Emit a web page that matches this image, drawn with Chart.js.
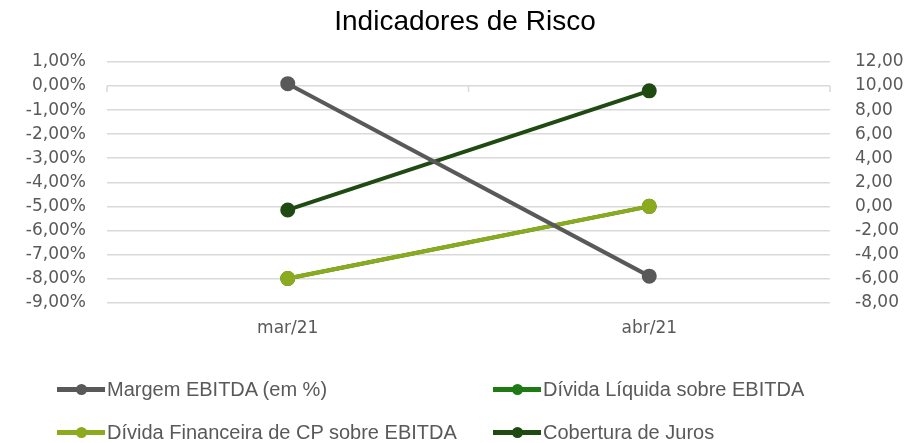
<!DOCTYPE html>
<html>
<head>
<meta charset="utf-8">
<script src="https://cdn.jsdelivr.net/npm/chart.js@4"></script>
<style>
  body { margin: 0; background: #fff; }
  #wrap { position: relative; width: 905px; height: 443px; }
  #overlay { position: absolute; left: 0; top: 0; width: 905px; height: 443px; pointer-events: none; }
  #title { position: absolute; left: 265px; width: 400px; top: 5px; text-align: center; font-family: 'Liberation Sans Narrow', 'Liberation Sans', sans-serif; font-size: 28px; color: #000; }
  .item { position: absolute; display: flex; align-items: center; font-family: 'Liberation Sans Narrow', 'Liberation Sans', sans-serif; font-size: 20px; color: #595959; white-space: nowrap; }
  .mark { position: relative; width: 48px; height: 5px; margin-right: 2px; }
  .mark span { position: absolute; left: 19px; top: -3px; width: 11px; height: 11px; border-radius: 50%; }
</style>
</head>
<body>
<div id="wrap">
  <canvas id="Chart-risco" width="905" height="443"></canvas>
  <div id="overlay"><div id="title">Indicadores de Risco</div></div>
</div>
<script>
var categories = ['mar/21', 'abr/21'];
var margemEbitda = [0.1, -7.9];          // % (eixo esquerdo)
var dividaLiquida = [-6.0, 0.0];         // eixo direito
var dividaFinanceiraCP = [-6.0, 0.0];    // eixo direito
var coberturaJuros = [-0.3, 9.6];        // eixo direito
var leftTicks = [1, 0, -1, -2, -3, -4, -5, -6, -7, -8, -9];
var rightTicks = [12, 10, 8, 6, 4, 2, 0, -2, -4, -6, -8];

var tickFont = { family: 'DejaVu Sans', size: 17 };
var gray = '#595959';

function fmt(v) {
  return v.toFixed(2).replace('.', ',');
}

// small tick marks on the category axis (crossing at 0 on the left axis)
var axisTicks = {
  id: 'axisTicks',
  afterDatasetsDraw: function(chart) {
    var ctx = chart.ctx;
    var y = chart.scales.y.getPixelForValue(0);
    var x = chart.scales.x;
    var half = (x.getPixelForValue(1) - x.getPixelForValue(0)) / 2;
    ctx.save();
    ctx.strokeStyle = '#d9d9d9';
    ctx.lineWidth = 1.5;
    [x.getPixelForValue(0) - half, x.getPixelForValue(0) + half, x.getPixelForValue(1) + half].forEach(function(px) {
      ctx.beginPath();
      ctx.moveTo(px, y);
      ctx.lineTo(px, y + 6);
      ctx.stroke();
    });
    ctx.restore();
  }
};

var ctx = document.getElementById('Chart-risco').getContext('2d');
var chart = new Chart(ctx, {
  type: 'line',
  data: {
    labels: categories,
    datasets: [{
        label: 'Margem EBITDA (em %)',
        data: margemEbitda,
        yAxisID: 'y',
        borderColor: '#595959',
        backgroundColor: '#595959',
        borderWidth: 4,
        pointRadius: 5.5
      },
      {
        label: 'Dívida Líquida sobre EBITDA',
        data: dividaLiquida,
        yAxisID: 'y2',
        borderColor: '#1E7A14',
        backgroundColor: '#1E7A14',
        borderWidth: 4,
        pointRadius: 5.5,
        order: 3
      },
      {
        label: 'Dívida Financeira de CP sobre EBITDA',
        data: dividaFinanceiraCP,
        yAxisID: 'y2',
        borderColor: '#8CAA1E',
        backgroundColor: '#8CAA1E',
        borderWidth: 4,
        pointRadius: 5.5,
        order: 1
      },
      {
        label: 'Cobertura de Juros',
        data: coberturaJuros,
        yAxisID: 'y2',
        borderColor: '#1F4A12',
        backgroundColor: '#1F4A12',
        borderWidth: 4,
        pointRadius: 5.5
      }
    ]
  },
  options: {
    responsive: false,
    animation: false,
    layout: { padding: { left: 0, right: 0, top: 62, bottom: 96 } },
    plugins: {
      legend: { display: false },
      tooltip: { enabled: false },
      title: { display: false }
    },
    scales: {
      x: {
        offset: true,
        grid: { display: false },
        border: { display: false },
        ticks: { color: gray, font: tickFont, padding: 8 }
      },
      y: {
        position: 'left',
        min: -9,
        max: 1,
        afterBuildTicks: function(s) { s.ticks = leftTicks.map(function(v) { return { value: v }; }); },
        afterFit: function(s) { s.width = 107; },
        grid: { color: '#d9d9d9', lineWidth: 1.5, drawTicks: false },
        border: { display: false },
        ticks: { color: gray, font: tickFont, padding: 21, autoSkip: false, callback: function(v) { return fmt(v) + '%'; } }
      },
      y2: {
        position: 'right',
        min: -8,
        max: 12,
        afterBuildTicks: function(s) { s.ticks = rightTicks.map(function(v) { return { value: v }; }); },
        afterFit: function(s) { s.width = 75; },
        grid: { display: false },
        border: { display: false },
        ticks: { color: gray, font: tickFont, padding: 17, autoSkip: false, callback: function(v) { return fmt(v); } }
      }
    }
  },
  plugins: [axisTicks]
});

// legend laid out like the original, two columns
var legendPos = [[57, 390], [493, 390], [57, 433], [493, 433]];
var overlay = document.getElementById('overlay');
chart.data.datasets.forEach(function(ds, i) {
  var el = document.createElement('div');
  el.className = 'item';
  el.style.left = legendPos[i][0] + 'px';
  el.style.top = (legendPos[i][1] - 12) + 'px';
  el.innerHTML = '<div class="mark" style="background:' + ds.borderColor + '"><span style="background:' + ds.borderColor + '"></span></div>' + ds.label;
  overlay.appendChild(el);
});
</script>
</body>
</html>
